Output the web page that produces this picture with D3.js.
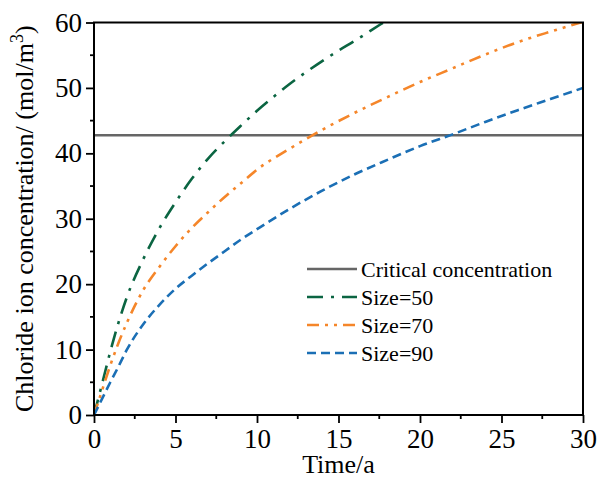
<!DOCTYPE html>
<html>
<head>
<meta charset="utf-8">
<script src="https://cdn.jsdelivr.net/npm/d3@7"></script>
<style>
  body { margin: 0; background: #fff; overflow: hidden; }
  svg { display: block; }
  svg text { font-family: "Liberation Serif", "Times New Roman", Times, "DejaVu Serif", serif; }
</style>
</head>
<body>
<div id="chart"></div>
<script>
// values
const critical = 42.75;

const size50 = [
  [0, 0], [0.5, 4.8], [1, 9.7], [1.5, 14.1], [2, 17.9], [3, 23.7], [4, 28.5],
  [5, 32.5], [6, 36.1], [7, 39.2], [8, 41.8], [9, 44.2], [10, 46.5],
  [11, 48.6], [12, 50.6], [13, 52.4], [14, 54.1], [15, 55.7], [16, 57.2],
  [17, 58.8], [18, 60.4]
];

const size70 = [
  [0, 0], [0.5, 3.8], [1, 7.6], [1.5, 11.0], [2, 14.0], [3, 19.0], [4, 22.6],
  [5, 25.8], [6, 28.6], [7, 31.0], [8, 33.3], [9, 35.4], [10, 37.5],
  [12, 40.7], [14, 43.6], [16, 46.2], [18, 48.6], [20, 50.9], [22, 53.0],
  [24, 55.1], [26, 57.0], [28, 58.6], [30, 60.1]
];

const size90 = [
  [0, 0], [0.5, 2.5], [1, 5.0], [1.5, 7.4], [2, 9.9], [3, 13.8], [4, 16.8],
  [5, 19.3], [6, 21.3], [7, 23.2], [8, 25.0], [9, 26.8], [10, 28.4],
  [12, 31.5], [14, 34.3], [16, 36.8], [18, 39.0], [20, 41.1], [22, 42.9],
  [24, 44.8], [26, 46.6], [28, 48.3], [30, 50.0]
];

const xTicks = [0, 5, 10, 15, 20, 25, 30];
const yTicks = [0, 10, 20, 30, 40, 50, 60];
const xMinor = [2.5, 7.5, 12.5, 17.5, 22.5, 27.5];
const yMinor = [5, 15, 25, 35, 45, 55];

const series = [
  { name: 'Critical concentration', color: '#666666', dash: null },
  { name: 'Size=50', color: '#0b6542', dash: '16,8,3,8', data: size50 },
  { name: 'Size=70', color: '#f5862a', dash: '12,6,3,6,3,6', data: size70 },
  { name: 'Size=90', color: '#1b6fb5', dash: '9,5', data: size90 }
];

const width = 598;
const height = 480;
const margin = { top: 22.5, right: 15, bottom: 65, left: 94 };
const innerWidth = width - margin.left - margin.right;
const innerHeight = height - margin.top - margin.bottom;

const svg = d3.select('#chart')
  .append('svg')
  .attr('width', width)
  .attr('height', height);

const g = svg.append('g')
  .attr('transform', `translate(${margin.left},${margin.top})`);

const x = d3.scaleLinear().domain([0, 30]).range([0, innerWidth]);
const y = d3.scaleLinear().domain([0, 60]).range([innerHeight, 0]);

g.append('clipPath')
  .attr('id', 'plot-clip')
  .append('rect')
  .attr('width', innerWidth)
  .attr('height', innerHeight);

// critical line
g.append('line')
  .attr('x1', x(0))
  .attr('x2', x(30))
  .attr('y1', y(critical))
  .attr('y2', y(critical))
  .attr('stroke', series[0].color)
  .attr('stroke-width', 2.5);

const line = d3.line()
  .x(d => x(d[0]))
  .y(d => y(d[1]))
  .curve(d3.curveMonotoneX);

series.slice(1).forEach(s => {
  g.append('path')
    .datum(s.data)
    .attr('clip-path', 'url(#plot-clip)')
    .attr('fill', 'none')
    .attr('stroke', s.color)
    .attr('stroke-width', 2.6)
    .attr('stroke-dasharray', s.dash)
    .attr('d', line);
});

// axes
g.append('g')
  .attr('class', 'axis')
  .attr('transform', `translate(0,${innerHeight})`)
  .call(d3.axisBottom(x).tickValues(xTicks).tickSize(8).tickPadding(6));

g.append('g')
  .attr('class', 'axis')
  .call(d3.axisLeft(y).tickValues(yTicks).tickSize(8).tickPadding(4));

// minor ticks
g.selectAll('.xminor')
  .data(xMinor)
  .enter()
  .append('line')
  .attr('class', 'minor')
  .attr('x1', d => x(d))
  .attr('x2', d => x(d))
  .attr('y1', innerHeight)
  .attr('y2', innerHeight + 4);

g.selectAll('.yminor')
  .data(yMinor)
  .enter()
  .append('line')
  .attr('class', 'minor')
  .attr('x1', 0)
  .attr('x2', -4)
  .attr('y1', d => y(d))
  .attr('y2', d => y(d));

g.selectAll('.domain').remove();
g.selectAll('.tick line, .minor').attr('stroke', '#000').attr('stroke-width', 1.8);
g.selectAll('.axis').attr('font-family', null);
g.selectAll('.tick text')
  .attr('fill', '#000')
  .style('font-size', '27px');

// frame
g.append('rect')
  .attr('width', innerWidth)
  .attr('height', innerHeight)
  .attr('fill', 'none')
  .attr('stroke', '#000')
  .attr('stroke-width', 2);

// axis titles
g.append('text')
  .attr('x', innerWidth / 2)
  .attr('y', innerHeight + 58)
  .attr('text-anchor', 'middle')
  .style('font-size', '26px')
  .text('Time/a');

const yTitle = g.append('text')
  .attr('transform', 'rotate(-90)')
  .attr('x', -innerHeight / 2)
  .attr('y', -61)
  .attr('text-anchor', 'middle')
  .style('font-size', '26px');
yTitle.append('tspan').text('Chloride ion concentration/ (mol/m');
yTitle.append('tspan').attr('dy', -10).style('font-size', '18px').text('3');
yTitle.append('tspan').attr('dy', 10).text(')');

// legend
const legend = g.append('g')
  .attr('transform', `translate(${307 - margin.left},${269 - margin.top})`);

series.forEach((s, i) => {
  const row = legend.append('g').attr('transform', `translate(0,${i * 28})`);
  row.append('line')
    .attr('x1', 0)
    .attr('x2', 50)
    .attr('stroke', s.color)
    .attr('stroke-width', 2.6)
    .attr('stroke-dasharray', s.dash);
  row.append('text')
    .attr('x', 54)
    .attr('y', 8)
    .style('font-size', '22px')
    .text(s.name);
});
</script>
</body>
</html>
